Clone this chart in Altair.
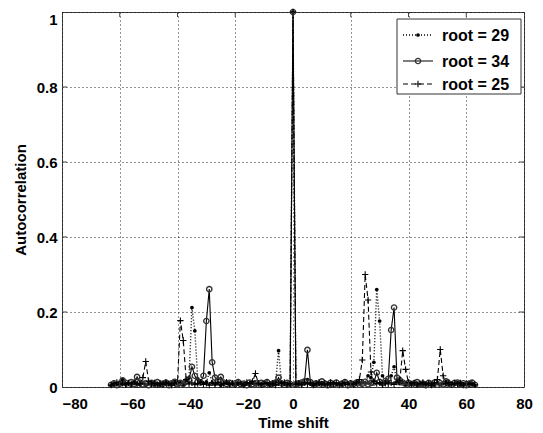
import altair as alt
import pandas as pd

lags = list(range(-63, 64))

root29 = [
    0.004, 0.008, 0.006, 0.012, 0.020, 0.007, 0.010, 0.005, 0.013, 0.009,   # -63..-54
    0.006, 0.011, 0.004, 0.009, 0.012, 0.006, 0.008, 0.005, 0.010, 0.014,   # -53..-44
    0.007, 0.011, 0.015, 0.008, 0.012, 0.006, 0.018, 0.025, 0.212, 0.150,   # -43..-34
    0.022, 0.016, 0.010, 0.014, 0.038, 0.012, 0.007, 0.011, 0.005, 0.009,   # -33..-24
    0.013, 0.006, 0.010, 0.004, 0.008, 0.012, 0.006, 0.009, 0.005, 0.011,   # -23..-14
    0.007, 0.010, 0.006, 0.013, 0.008, 0.005, 0.011, 0.015, 0.097, 0.012,   # -13..-4
    0.007, 0.010, 0.006, 1.000, 0.008, 0.011, 0.006, 0.009, 0.020, 0.008,   # -3..6
    0.005, 0.010, 0.007, 0.012, 0.006, 0.009, 0.004, 0.011, 0.007, 0.010,   # 7..16
    0.005, 0.008, 0.012, 0.006, 0.009, 0.013, 0.008, 0.015, 0.010, 0.030,   # 17..26
    0.025, 0.066, 0.260, 0.176, 0.030, 0.012, 0.015, 0.030, 0.054, 0.014,   # 27..36
    0.009, 0.012, 0.006, 0.010, 0.007, 0.011, 0.005, 0.009, 0.012, 0.006,   # 37..46
    0.010, 0.008, 0.005, 0.011, 0.007, 0.009, 0.015, 0.006, 0.010, 0.008,   # 47..56
    0.012, 0.005, 0.009, 0.007, 0.011, 0.006, 0.004,                        # 57..63
]

root34 = [
    0.006, 0.010, 0.005, 0.009, 0.018, 0.011, 0.006, 0.013, 0.008, 0.027,   # -63..-54
    0.012, 0.007, 0.010, 0.005, 0.011, 0.008, 0.013, 0.006, 0.009, 0.012,   # -53..-44
    0.005, 0.010, 0.014, 0.007, 0.011, 0.008, 0.015, 0.020, 0.054, 0.030,   # -43..-34
    0.015, 0.012, 0.030, 0.176, 0.261, 0.066, 0.025, 0.018, 0.027, 0.012,   # -33..-24
    0.008, 0.011, 0.006, 0.010, 0.013, 0.007, 0.009, 0.005, 0.012, 0.008,   # -23..-14
    0.010, 0.006, 0.011, 0.008, 0.013, 0.006, 0.009, 0.012, 0.025, 0.010,   # -13..-4
    0.006, 0.011, 0.008, 1.000, 0.007, 0.010, 0.012, 0.015, 0.099, 0.013,   # -3..6
    0.008, 0.010, 0.006, 0.015, 0.009, 0.005, 0.011, 0.007, 0.012, 0.006,   # 7..16
    0.009, 0.013, 0.005, 0.010, 0.008, 0.012, 0.006, 0.009, 0.014, 0.007,   # 17..26
    0.011, 0.012, 0.038, 0.014, 0.010, 0.016, 0.022, 0.152, 0.212, 0.025,   # 27..36
    0.018, 0.012, 0.008, 0.011, 0.006, 0.010, 0.013, 0.007, 0.009, 0.005,   # 37..46
    0.011, 0.008, 0.012, 0.006, 0.010, 0.007, 0.015, 0.009, 0.006, 0.011,   # 47..56
    0.012, 0.007, 0.010, 0.005, 0.009, 0.012, 0.006,                        # 57..63
]

root25 = [
    0.005, 0.009, 0.012, 0.007, 0.010, 0.006, 0.011, 0.008, 0.013, 0.006,   # -63..-54
    0.009, 0.025, 0.068, 0.015, 0.008, 0.011, 0.006, 0.010, 0.007, 0.012,   # -53..-44
    0.009, 0.005, 0.010, 0.012, 0.177, 0.124, 0.020, 0.008, 0.011, 0.006,   # -43..-34
    0.009, 0.013, 0.007, 0.010, 0.005, 0.011, 0.008, 0.012, 0.006, 0.009,   # -33..-24
    0.013, 0.007, 0.010, 0.006, 0.011, 0.008, 0.005, 0.012, 0.009, 0.015,   # -23..-14
    0.036, 0.010, 0.006, 0.009, 0.012, 0.007, 0.010, 0.005, 0.011, 0.008,   # -13..-4
    0.012, 0.006, 0.009, 1.000, 0.007, 0.010, 0.006, 0.012, 0.008, 0.011,   # -3..6
    0.005, 0.009, 0.013, 0.007, 0.010, 0.006, 0.012, 0.008, 0.011, 0.005,   # 7..16
    0.009, 0.012, 0.007, 0.010, 0.006, 0.011, 0.020, 0.072, 0.300, 0.232,   # 17..26
    0.040, 0.015, 0.009, 0.012, 0.006, 0.010, 0.008, 0.011, 0.007, 0.013,   # 27..36
    0.018, 0.097, 0.047, 0.012, 0.008, 0.011, 0.006, 0.009, 0.012, 0.007,   # 37..46
    0.010, 0.005, 0.011, 0.020, 0.100, 0.030, 0.009, 0.012, 0.006, 0.010,   # 47..56
    0.008, 0.011, 0.005, 0.009, 0.007, 0.010, 0.006,                        # 57..63
]

legend_labels = ["root = 29", "root = 34", "root = 25"]
x_ticks = [-60, -40, -20, 0, 20, 40, 60]
y_ticks = [0.2, 0.4, 0.6, 0.8]

W, H = 462, 375
FONT = "Liberation Sans"

df = pd.DataFrame({"lag": lags, "r29": root29, "r34": root34, "r25": root25})

xs = alt.Scale(domain=[-80, 80], nice=False)
ys = alt.Scale(domain=[0, 1], nice=False)

xaxis = alt.Axis(
    values=[-80, -60, -40, -20, 0, 20, 40, 60, 80],
    title="Time shift", ticks=False, domain=False,
    grid=True, gridDash=[1, 3], gridColor="#000", gridOpacity=0.85,
    labelFont=FONT, labelFontWeight="bold", labelFontSize=15, labelColor="#000",
    labelPadding=9,
    labelAlign={"condition": {"test": "datum.value < 0", "value": "left"}, "value": "center"},
    titleFont=FONT, titleFontWeight="bold", titleFontSize=15, titleColor="#000",
    titlePadding=4,
)
yaxis = alt.Axis(
    values=[0, 0.2, 0.4, 0.6, 0.8, 1], format="~g",
    title="Autocorrelation", ticks=False, domain=False,
    grid=True, gridDash=[1, 3], gridColor="#000", gridOpacity=0.85,
    labelFont=FONT, labelFontWeight="bold", labelFontSize=15, labelColor="#000",
    labelPadding=5,
    labelBaseline={"condition": {"test": "datum.value >= 1", "value": "top"}, "value": "middle"},
    titleFont=FONT, titleFontWeight="bold", titleFontSize=15, titleColor="#000",
    titlePadding=8,
)

base = alt.Chart(df)

def series(field, dash, width):
    return base.mark_line(color="#000", strokeWidth=width, strokeDash=dash).encode(
        x=alt.X("lag:Q", scale=xs, axis=xaxis),
        y=alt.Y(f"{field}:Q", scale=ys, axis=yaxis),
    )

plus_path = "M-1,0L1,0M0,-1L0,1"

l29 = series("r29", [1, 2], 1.4)
p29 = base.mark_point(shape="circle", filled=True, size=14, color="#000", opacity=1).encode(
    x=alt.X("lag:Q", scale=xs), y=alt.Y("r29:Q", scale=ys))
l34 = series("r34", [1, 0], 1.1)
p34 = base.mark_point(shape="circle", filled=False, size=28, stroke="#333", strokeWidth=1.4, opacity=1).encode(
    x=alt.X("lag:Q", scale=xs), y=alt.Y("r34:Q", scale=ys))
l25 = series("r25", [5, 3], 1.1)
p25 = base.mark_point(shape=plus_path, filled=False, size=40, stroke="#000", strokeWidth=1.1, opacity=1).encode(
    x=alt.X("lag:Q", scale=xs), y=alt.Y("r25:Q", scale=ys))

# inner ticks
xt = pd.DataFrame({"v": x_ticks})
yt = pd.DataFrame({"v": y_ticks})
tick_b = alt.Chart(xt).mark_rule(color="#444").encode(
    x=alt.X("v:Q", scale=xs), y=alt.value(H), y2=alt.value(H - 5))
tick_t = alt.Chart(xt).mark_rule(color="#444").encode(
    x=alt.X("v:Q", scale=xs), y=alt.value(0), y2=alt.value(5))
tick_l = alt.Chart(yt).mark_rule(color="#444").encode(
    y=alt.Y("v:Q", scale=ys), x=alt.value(0), x2=alt.value(5))
tick_r = alt.Chart(yt).mark_rule(color="#444").encode(
    y=alt.Y("v:Q", scale=ys), x=alt.value(W), x2=alt.value(W - 5))

# legend
one = pd.DataFrame({"k": [0]})
leg_box = alt.Chart(one).mark_rect(fill="#fff", stroke="#333", strokeWidth=1).encode(
    x=alt.value(335), x2=alt.value(459), y=alt.value(7), y2=alt.value(82))
ly = [23, 49, 72]
leg_parts = []
dashes = [[1, 2], [1, 0], [5, 3]]
widths = [1.4, 1.1, 1.1]
for i, lab in enumerate(legend_labels):
    d = pd.DataFrame({"label": [lab]})
    c = alt.Chart(d)
    leg_parts.append(c.mark_rule(color="#000", strokeWidth=widths[i], strokeDash=dashes[i]).encode(
        x=alt.value(341), x2=alt.value(371), y=alt.value(ly[i])))
    leg_parts.append(c.mark_text(align="left", baseline="middle", font=FONT, fontWeight="bold",
                                 fontSize=16, color="#000").encode(
        x=alt.value(380), y=alt.value(ly[i] + 1), text="label:N"))
leg_parts.append(alt.Chart(one).mark_point(shape="circle", filled=True, size=14, color="#000", opacity=1).encode(
    x=alt.value(356), y=alt.value(ly[0])))
leg_parts.append(alt.Chart(one).mark_point(shape="circle", filled=False, size=28, stroke="#333", strokeWidth=1.4, opacity=1).encode(
    x=alt.value(356), y=alt.value(ly[1])))
leg_parts.append(alt.Chart(one).mark_point(shape=plus_path, filled=False, size=40, stroke="#000", strokeWidth=1.1, opacity=1).encode(
    x=alt.value(356), y=alt.value(ly[2])))

chart = alt.layer(
    l29, p29, l34, p34, l25, p25, tick_b, tick_t, tick_l, tick_r, leg_box, *leg_parts
).properties(
    width=W, height=H,
    autosize=alt.AutoSizeParams(type="none"),
    padding={"left": 54, "top": 4, "right": 11, "bottom": 48},
    background="#fff",
).configure_view(stroke="#444", strokeWidth=1)

chart.save("out.html", embed_options={"renderer": "svg", "actions": False})
